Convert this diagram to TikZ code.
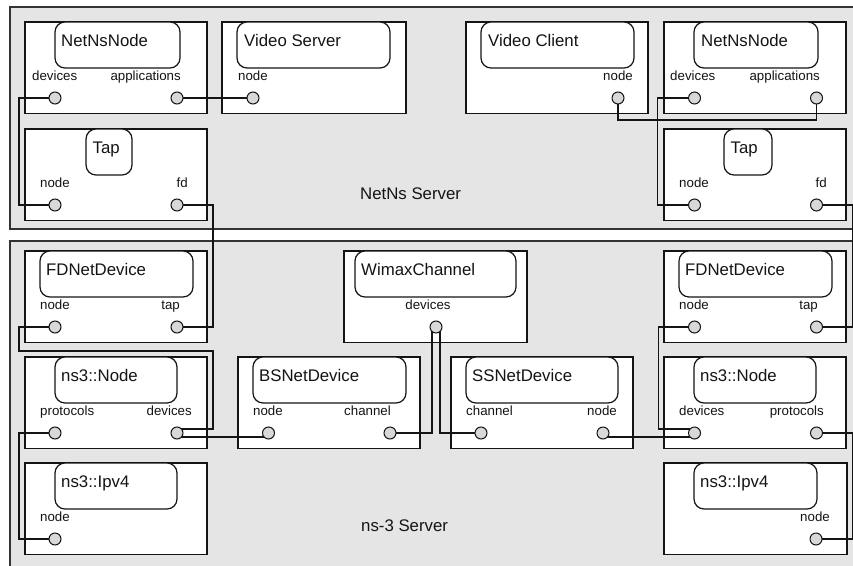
\documentclass[tikz,border=0pt]{standalone}
\usepackage{fontspec}
\setmainfont{Liberation Sans}
\usetikzlibrary{calc}
\definecolor{regionfill}{RGB}{229,229,229}
\definecolor{portfill}{RGB}{216,216,216}
\definecolor{ink}{RGB}{20,20,20}
\pgfdeclarelayer{wires}
\pgfdeclarelayer{ports}
\pgfsetlayers{main,wires,ports}

% component: name, x, top, width, caption x, caption width, title x, title
\newcommand\component[8]{%
  \node[compbox, minimum width=#4pt] (#1) at (#2,#3) {};
  \node[capbox, minimum width=#6pt] (#1-cap) at (#5,#3) {};
  \node[ttl] (#1-ttl) at (#7,#3+24) {#8};
}
% port: name, x, top of its component, label anchor, label x, label
\newcommand\portat[6]{%
  \begin{pgfonlayer}{ports}
    \node[port] (#1) at (#2,#3+76) {};
  \end{pgfonlayer}
  \node[plabel, anchor=#4] (#1-lbl) at (#5,#3+58) {#6};
}

\begin{document}
\begin{tikzpicture}[x=1pt, y=-1pt,
  region/.style={draw=black!80, line width=1.1pt, fill=regionfill,
    anchor=north west, inner sep=0pt, outer sep=0pt},
  compbox/.style={draw=ink, line width=1.3pt, fill=white, anchor=north west,
    inner sep=0pt, outer sep=0pt, minimum height=91.5pt},
  capbox/.style={draw=ink, line width=1.2pt, fill=white, rounded corners=10pt,
    anchor=north west, inner sep=0pt, outer sep=0pt, minimum height=46pt},
  ttl/.style={anchor=base west, inner sep=0pt, text=ink,
    font=\fontsize{16.8}{19}\selectfont},
  plabel/.style={inner sep=0pt, text=ink, font=\fontsize{13.3}{15}\selectfont},
  port/.style={circle, draw=ink, line width=1pt, fill=portfill,
    minimum size=12pt, inner sep=0pt},
  wire/.style={draw=ink, line width=1.3pt}]

\useasboundingbox (0,0) rectangle (853,565);
\clip (0,0) rectangle (853,565);

% the two hosts
\node[region, minimum width=870pt, minimum height=222pt] (netns) at (10,7) {};
\node[region, minimum width=870pt, minimum height=340pt] (ns3) at (10,241) {};
\node[ttl] (netnsLbl) at (360,199) {NetNs Server};
\node[ttl] (ns3Lbl) at (361,531) {ns-3 Server};

% NetNs side
\component{nnL}{25}{22}{182}{55}{125}{61}{NetNsNode}
\component{vs}{222}{22}{184}{237}{153}{244}{Video Server}
\component{tapL}{25}{129}{182}{86}{46}{92.5}{Tap}
\component{vc}{466}{22}{182}{481}{153}{488}{Video Client}
\component{nnR}{664}{22}{182}{694}{124}{701}{NetNsNode}
\component{tapR}{664}{129}{182}{724}{48}{730.5}{Tap}

% ns-3 side
\component{fdL}{25}{251}{182}{40}{153}{46}{FDNetDevice}
\component{nodeL}{25}{357}{182}{55}{122}{61}{ns3::Node}
\component{ipL}{25}{463}{182}{55}{122}{61}{ns3::Ipv4}
\component{bs}{238}{357}{182}{253}{153}{259}{BSNetDevice}
\component{wc}{344}{251}{183}{355}{161}{361}{WimaxChannel}
\component{ss}{451}{357}{182}{466}{152}{472}{SSNetDevice}
\component{fdR}{664}{251}{182}{679}{153}{685}{FDNetDevice}
\component{nodeR}{664}{357}{182}{694}{122}{700}{ns3::Node}
\component{ipR}{664}{463}{183}{694}{123}{700}{ns3::Ipv4}

% ports
\portat{nnL-dev}{55}{22}{base west}{32}{devices}
\portat{nnL-app}{177}{22}{base east}{181}{applications}
\portat{vs-node}{253}{22}{base west}{238}{node}
\portat{tapL-node}{55}{129}{base west}{40}{node}
\portat{tapL-fd}{177}{129}{base east}{188}{fd}
\portat{vc-node}{618}{22}{base east}{633}{node}
\portat{nnR-dev}{694.5}{22}{base west}{670}{devices}
\portat{nnR-app}{816.5}{22}{base east}{820}{applications}
\portat{tapR-node}{694.5}{129}{base west}{679}{node}
\portat{tapR-fd}{816.5}{129}{base east}{827}{fd}
\portat{fdL-node}{55}{251}{base west}{40}{node}
\portat{fdL-tap}{177}{251}{base east}{180}{tap}
\portat{nodeL-proto}{55}{357}{base west}{40}{protocols}
\portat{nodeL-dev}{177}{357}{base east}{192}{devices}
\portat{ipL-node}{55}{463}{base west}{40}{node}
\portat{bs-node}{268.5}{357}{base west}{253}{node}
\portat{bs-chan}{390}{357}{base east}{391}{channel}
\portat{wc-dev}{436}{251}{base}{428}{devices}
\portat{ss-chan}{481}{357}{base west}{466}{channel}
\portat{ss-node}{603}{357}{base east}{617}{node}
\portat{fdR-node}{694.5}{251}{base west}{679}{node}
\portat{fdR-tap}{816.5}{251}{base east}{818}{tap}
\portat{nodeR-dev}{694.5}{357}{base west}{679}{devices}
\portat{nodeR-proto}{816.5}{357}{base east}{824}{protocols}
\portat{ipR-node}{816}{463}{base east}{830}{node}

% connections
\begin{pgfonlayer}{wires}
  \draw[wire] (nnL-dev.center) -- ++(-36,0) |- (tapL-node.center);
  \draw[wire] (nnL-app.center) -- (vs-node.center);
  \draw[wire] (tapL-fd.center) -- ++(36,0) |- (fdL-tap.center);
  \draw[wire] (vc-node.center) -- ++(0,22) -| (nnR-app.center);
  \draw[wire] (nnR-dev.center) -- ++(-37,0) |- (tapR-node.center);
  \draw[wire] (tapR-fd.center) -- ++(36,0) |- (fdR-tap.center);
  \draw[wire] (fdL-node.center) -- ++(-36,0) -- ++(0,24)
    -| ([shift={(36,-4)}]nodeL-dev.center) -- ([shift={(0,-4)}]nodeL-dev.center);
  \draw[wire] ([shift={(0,4)}]nodeL-dev.center) -- ([shift={(0,4)}]bs-node.center);
  \draw[wire] (nodeL-proto.center) -- ++(-36,0) |- (ipL-node.center);
  \draw[wire] ([shift={(-4,0)}]wc-dev.center) |- (bs-chan.center);
  \draw[wire] ([shift={(4,0)}]wc-dev.center) |- (ss-chan.center);
  \draw[wire] ([shift={(0,4)}]ss-node.center) -- ([shift={(0,4)}]nodeR-dev.center);
  \draw[wire] (fdR-node.center) -- ++(-36,0) |- ([shift={(0,-4)}]nodeR-dev.center);
  \draw[wire] (nodeR-proto.center) -- ++(36,0) |- (ipR-node.center);
\end{pgfonlayer}
\end{tikzpicture}
\end{document}
